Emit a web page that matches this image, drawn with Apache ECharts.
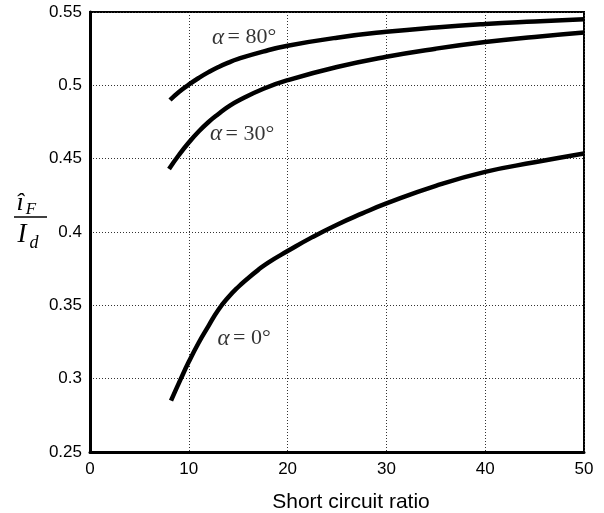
<!DOCTYPE html>
<html>
<head>
<meta charset="utf-8">
<script src="https://cdn.jsdelivr.net/npm/echarts@6/dist/echarts.min.js"></script>
<style>
html,body{margin:0;padding:0;background:#fff;}
#chart{width:604px;height:513px;}
</style>
</head>
<body>
<div id="chart"></div>
<script>
// x values (short circuit ratio) and y values (i_F / I_d) per curve
var x80 = [8.1, 9, 10, 11, 12, 13, 14, 15, 17.5, 20, 25, 30, 35, 40, 45, 50];
var y80 = [0.490, 0.4955, 0.5005, 0.505, 0.509, 0.5125, 0.5155, 0.518, 0.523, 0.527, 0.5325, 0.5365, 0.5395, 0.5418, 0.5435, 0.545];

var x30 = [8, 9, 10, 11, 12, 13, 14, 15, 17.5, 20, 25, 30, 35, 40, 45, 50];
var y30 = [0.443, 0.4525, 0.461, 0.4685, 0.475, 0.4805, 0.4855, 0.4895, 0.4975, 0.5035, 0.5125, 0.5195, 0.525, 0.5295, 0.533, 0.536];

var x0 = [8.2, 9.2, 10, 11, 12, 13, 14, 15, 16, 17, 18, 20, 22.5, 25, 27.5, 30, 35, 40, 45, 50];
var y0 = [0.285, 0.300, 0.3115, 0.3245, 0.336, 0.347, 0.3555, 0.3625, 0.3685, 0.374, 0.379, 0.387, 0.3965, 0.405, 0.4125, 0.4195, 0.4315, 0.441, 0.4475, 0.4535];

var xTicks = [0, 10, 20, 30, 40, 50];
var yTickLabels = ['0.25', '0.3', '0.35', '0.4', '0.45', '0.5', '0.55'];

// curve annotations: [x, y, angle text]
var curveLabels = [
  [15.6, 0.5325, '80°'],
  [15.4, 0.4668, '30°'],
  [15.6, 0.3274, '0°']
];

function pairs(xs, ys) {
  return xs.map(function (x, i) { return [x, ys[i]]; });
}

var chart = echarts.init(document.getElementById('chart'), null, {renderer: 'canvas'});

var lineStyle = {color: '#000', width: 4.5};

var option = {
  backgroundColor: '#fff',
  animation: false,
  grid: {
    left: 90, right: 20, top: 12, bottom: 61,
    outerBoundsMode: 'none',
    show: true, borderColor: '#000', borderWidth: 2, backgroundColor: 'transparent'
  },
  xAxis: {
    type: 'value', min: 0, max: 50, interval: 10,
    name: 'Short circuit ratio', nameLocation: 'middle', nameGap: 40,
    nameTextStyle: {fontFamily: 'Liberation Sans', fontSize: 21, color: '#000', padding: [0, 0, 0, 28]},
    axisLine: {show: true, lineStyle: {color: '#000', width: 3}},
    axisTick: {show: false},
    axisLabel: {fontFamily: 'Liberation Sans', fontSize: 17, color: '#000', margin: 9,
      formatter: function (v) { return xTicks.indexOf(v) >= 0 ? String(v) : ''; }},
    splitLine: {show: true, lineStyle: {color: '#333', width: 1, type: [1, 2]}}
  },
  yAxis: {
    type: 'value', min: 0.25, max: 0.55, interval: 0.05,
    axisLine: {show: true, lineStyle: {color: '#000', width: 3}},
    axisTick: {show: false},
    axisLabel: {fontFamily: 'Liberation Sans', fontSize: 17, color: '#000', margin: 8,
      formatter: function (v) { return yTickLabels[Math.round((v - 0.25) / 0.05)]; }},
    splitLine: {show: true, lineStyle: {color: '#333', width: 1, type: [1, 2]}}
  },
  series: [
    {type: 'line', data: pairs(x80, y80), smooth: 0.5, showSymbol: false, lineStyle: lineStyle},
    {type: 'line', data: pairs(x30, y30), smooth: 0.5, showSymbol: false, lineStyle: lineStyle},
    {type: 'line', data: pairs(x0, y0), smooth: 0.5, showSymbol: false, lineStyle: lineStyle},
    {
      type: 'scatter', symbolSize: 0, z: 5,
      data: curveLabels.map(function (d) { return {value: [d[0], d[1]], name: d[2]}; }),
      label: {
        show: true, position: 'inside',
        formatter: function (p) { return '{a|α} {b|= ' + p.name + '}'; },
        rich: {
          a: {fontFamily: 'Liberation Serif', fontStyle: 'italic', fontSize: 23, color: '#000'},
          b: {fontFamily: 'Liberation Serif', fontSize: 22, color: '#000'}
        }
      }
    }
  ],
  graphic: [
    {type: 'text', x: 20, y: 203, style: {text: 'î', font: 'italic 26px "Liberation Serif"', fill: '#000', align: 'center', verticalAlign: 'middle'}},
    {type: 'text', x: 31, y: 210, style: {text: 'F', font: 'italic 17px "Liberation Serif"', fill: '#000', align: 'center', verticalAlign: 'middle'}},
    {type: 'line', shape: {x1: 14, y1: 217, x2: 47, y2: 217}, style: {stroke: '#000', lineWidth: 1.5}},
    {type: 'text', x: 22, y: 235, style: {text: 'I', font: 'italic 27px "Liberation Serif"', fill: '#000', align: 'center', verticalAlign: 'middle'}},
    {type: 'text', x: 34, y: 243, style: {text: 'd', font: 'italic 18px "Liberation Serif"', fill: '#000', align: 'center', verticalAlign: 'middle'}}
  ]
};

chart.setOption(option);
</script>
</body>
</html>
